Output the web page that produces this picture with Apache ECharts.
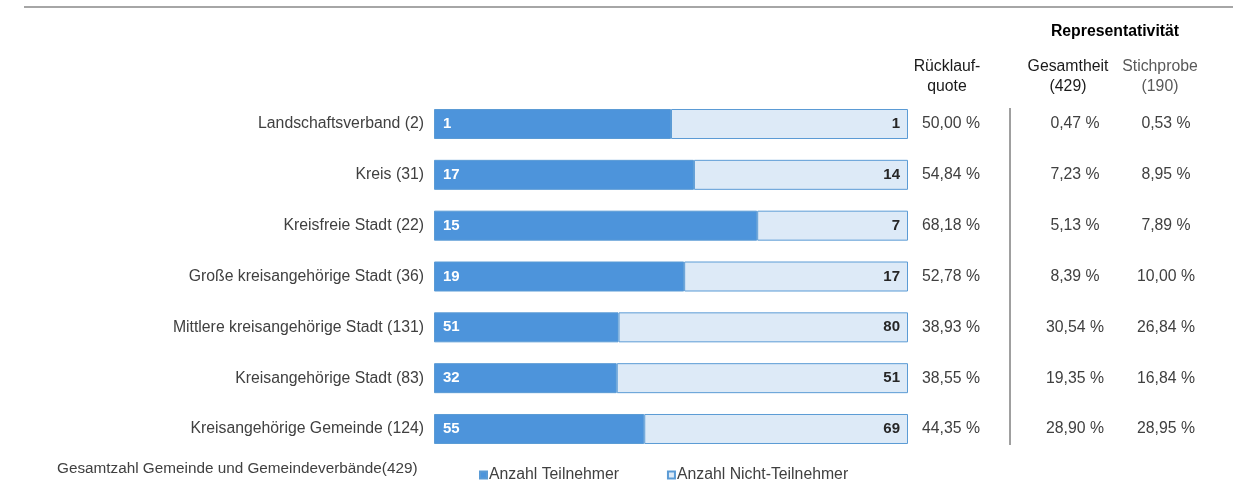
<!DOCTYPE html>
<html>
<head>
<meta charset="utf-8">
<script src="https://cdn.jsdelivr.net/npm/echarts@6/dist/echarts.min.js"></script>
<style>
html,body{margin:0;padding:0;background:#fff;}
#chart{width:1233px;height:481px;}
</style>
</head>
<body>
<div id="chart"></div>
<script>
var categories = [
  'Landschaftsverband (2)',
  'Kreis (31)',
  'Kreisfreie Stadt (22)',
  'Große kreisangehörige Stadt (36)',
  'Mittlere kreisangehörige Stadt (131)',
  'Kreisangehörige Stadt (83)',
  'Kreisangehörige Gemeinde (124)'
];
var teilnehmer = [1, 17, 15, 19, 51, 32, 55];
var nichtTeilnehmer = [1, 14, 7, 17, 80, 51, 69];
var ruecklaufquote = [50.00, 54.84, 68.18, 52.78, 38.93, 38.55, 44.35];
var gesamtheit = [0.47, 7.23, 5.13, 8.39, 30.54, 19.35, 28.90];
var stichprobe = [0.53, 8.95, 7.89, 10.00, 26.84, 16.84, 28.95];
var seriesNames = ['Anzahl Teilnehmer', 'Anzahl Nicht-Teilnehmer'];

var FONT = "'Liberation Sans', Arial, sans-serif";
var FS = 15.8;
function pct(v){ return v.toFixed(2).replace('.', ',') + ' %'; }
var totals = teilnehmer.map(function(v,i){ return v + nichtTeilnehmer[i]; });
var shareT = teilnehmer.map(function(v,i){ return { value: v / totals[i] * 100, raw: v }; });
var shareN = nichtTeilnehmer.map(function(v,i){ return { value: v / totals[i] * 100, raw: v }; });

function textAxis(values, margin, color){
  return {
    type: 'category', position: 'right', inverse: true,
    data: values.map(pct),
    axisLine: {show: false}, axisTick: {show: false}, splitLine: {show: false},
    axisLabel: {margin: margin, align: 'center', color: color || '#404040', fontSize: FS, fontFamily: FONT, padding: [4,0,0,0]}
  };
}

var chart = echarts.init(document.getElementById('chart'));
chart.setOption({
  animation: false,
  backgroundColor: '#fff',
  textStyle: {fontFamily: FONT},
  grid: {left: 434, right: 325, top: 98.6, height: 355.8},
  xAxis: {type: 'value', min: 0, max: 100, show: false},
  yAxis: [
    {
      type: 'category', inverse: true, data: categories,
      axisLine: {show: false}, axisTick: {show: false},
      axisLabel: {margin: 10, color: '#404040', fontSize: FS, fontFamily: FONT, padding: [4,0,0,0]}
    },
    textAxis(ruecklaufquote, 43),
    textAxis(gesamtheit, 167),
    textAxis(stichprobe, 258)
  ],
  legend: {
    left: 474, top: 462,
    itemWidth: 7, itemHeight: 7, itemGap: 48,
    icon: 'rect',
    textStyle: {color: '#404040', fontSize: FS, fontFamily: FONT, padding: [0,0,0,-3]},
    data: seriesNames
  },
  series: [
    {
      name: seriesNames[0], type: 'bar', stack: 'a', barWidth: 30,
      data: shareT,
      itemStyle: {color: '#4d94db', borderColor: '#5b9bd5', borderWidth: 1},
      label: {show: true, position: 'insideLeft', distance: 9, color: '#fff', fontWeight: 'bold', fontSize: 15, fontFamily: FONT, padding: [4,0,0,0],
        formatter: function(p){ return p.data.raw; }}
    },
    {
      name: seriesNames[1], type: 'bar', stack: 'a', barWidth: 30,
      data: shareN,
      itemStyle: {color: '#ddeaf7', borderColor: '#5b9bd5', borderWidth: 1},
      label: {show: true, position: 'insideRight', distance: 8, color: '#262626', fontWeight: 'bold', fontSize: 15, fontFamily: FONT, padding: [4,0,0,0],
        formatter: function(p){ return p.data.raw; }}
    }
  ],
  graphic: [
    {type: 'line', shape: {x1: 24, y1: 7, x2: 1233, y2: 7}, style: {stroke: '#a6a6a6', lineWidth: 2}},
    {type: 'line', shape: {x1: 1010, y1: 108, x2: 1010, y2: 445}, style: {stroke: '#404040', lineWidth: 1}},
    {type: 'text', x: 1115, y: 24, style: {text: 'Representativität', fill: '#000', font: 'bold ' + FS + 'px ' + FONT, textAlign: 'center'}},
    {type: 'text', x: 947, y: 57, style: {text: 'Rücklauf-\nquote', fill: '#1a1a1a', font: FS + 'px ' + FONT, textAlign: 'center', lineHeight: 20}},
    {type: 'text', x: 1068, y: 57, style: {text: 'Gesamtheit\n(429)', fill: '#1a1a1a', font: FS + 'px ' + FONT, textAlign: 'center', lineHeight: 20}},
    {type: 'text', x: 1160, y: 57, style: {text: 'Stichprobe\n(190)', fill: '#595959', font: FS + 'px ' + FONT, textAlign: 'center', lineHeight: 20}},
    {type: 'text', x: 57, y: 461, style: {text: 'Gesamtzahl Gemeinde und Gemeindeverbände(429)', fill: '#404040', font: '15.3px ' + FONT}}
  ]
});
</script>
</body>
</html>
